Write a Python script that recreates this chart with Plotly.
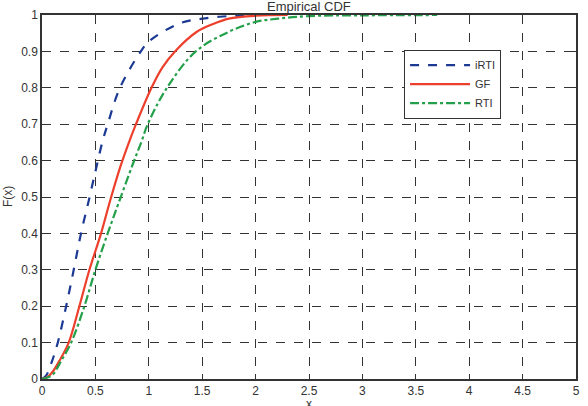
import plotly.graph_objects as go

# Data (x, F(x))
irti_x = [0, 0.04, 0.095, 0.148, 0.226, 0.297, 0.365, 0.437, 0.50, 0.565, 0.615, 0.73, 0.925, 1.0, 1.28, 1.5, 1.75, 2.0]
irti_y = [0, 0.01, 0.05, 0.1, 0.2, 0.3, 0.4, 0.489, 0.57, 0.651, 0.7, 0.8, 0.9, 0.927, 0.976, 0.99, 0.997, 1.0]

gf_x = [0, 0.05, 0.1, 0.163, 0.25, 0.35, 0.444, 0.553, 0.637, 0.73, 0.815, 0.88, 1.025, 1.125, 1.245, 1.45, 1.6, 1.75, 2.0, 2.3]
gf_y = [0, 0.005, 0.02, 0.05, 0.1, 0.2, 0.3, 0.4, 0.489, 0.58, 0.651, 0.7, 0.8, 0.855, 0.9, 0.954, 0.975, 0.99, 0.998, 1.0]

rti_x = [0, 0.05, 0.1, 0.18, 0.273, 0.397, 0.5, 0.615, 0.724, 0.85, 0.93, 0.99, 1.17, 1.44, 1.75, 2.0, 2.21, 2.5, 3.0, 3.7]
rti_y = [0, 0.004, 0.012, 0.05, 0.1, 0.2, 0.3, 0.4, 0.489, 0.59, 0.651, 0.7, 0.8, 0.9, 0.954, 0.981, 0.99, 0.997, 0.999, 1.0]

x_ticks = [0, 0.5, 1, 1.5, 2, 2.5, 3, 3.5, 4, 4.5, 5]
y_ticks = [0, 0.1, 0.2, 0.3, 0.4, 0.5, 0.6, 0.7, 0.8, 0.9, 1]

fig = go.Figure()
fig.add_trace(go.Scatter(x=irti_x, y=irti_y, name="iRTI", mode="lines",
                         line=dict(color="#1c3a94", width=2.2, dash="dash", shape="spline", smoothing=1.0)))
fig.add_trace(go.Scatter(x=gf_x, y=gf_y, name="GF", mode="lines",
                         line=dict(color="#ec3f2c", width=2.2, shape="spline", smoothing=1.0)))
fig.add_trace(go.Scatter(x=rti_x, y=rti_y, name="RTI", mode="lines",
                         line=dict(color="#24a04a", width=2.2, dash="dashdot", shape="spline", smoothing=1.0)))

axis_common = dict(
    showgrid=True, gridcolor="#333333", griddash="dash", gridwidth=1,
    showline=True, linecolor="#333333", linewidth=1.5, mirror="ticks",
    ticks="inside", ticklen=5, tickcolor="#333333",
    zeroline=False,
    tickfont=dict(family="Liberation Sans, Arial", size=12, color="#333333"),
)

fig.update_layout(
    width=588, height=406,
    margin=dict(l=42, r=8, t=11, b=25),
    paper_bgcolor="white", plot_bgcolor="white",
    showlegend=True,
    legend=dict(x=0.678, y=0.905, xanchor="left", yanchor="top",
                bgcolor="white", bordercolor="#333333", borderwidth=1,
                font=dict(family="Liberation Sans, Arial", size=11, color="#333333"),
                tracegroupgap=0, itemwidth=60),
    xaxis=dict(range=[0, 5], tickvals=x_ticks, ticktext=[str(v) for v in x_ticks], **axis_common),
    yaxis=dict(range=[0, 1], tickvals=y_ticks, ticktext=[str(v) for v in y_ticks], **axis_common),
    annotations=[
        dict(text="Empirical CDF", x=0.5, y=1.0, xref="paper", yref="paper",
             xanchor="center", yanchor="middle", yshift=9, showarrow=False,
             font=dict(family="Liberation Sans, Arial", size=13, color="#333333")),
        dict(text="x", x=0.5, y=0, xref="paper", yref="paper",
             xanchor="center", yanchor="top", yshift=-16, showarrow=False,
             font=dict(family="Liberation Sans, Arial", size=12, color="#333333")),
        dict(text="F(x)", x=0, y=0.5, xref="paper", yref="paper", textangle=-90,
             xanchor="center", yanchor="middle", xshift=-34, showarrow=False,
             font=dict(family="Liberation Sans, Arial", size=12, color="#333333")),
    ],
)

fig.write_html("out.html")
